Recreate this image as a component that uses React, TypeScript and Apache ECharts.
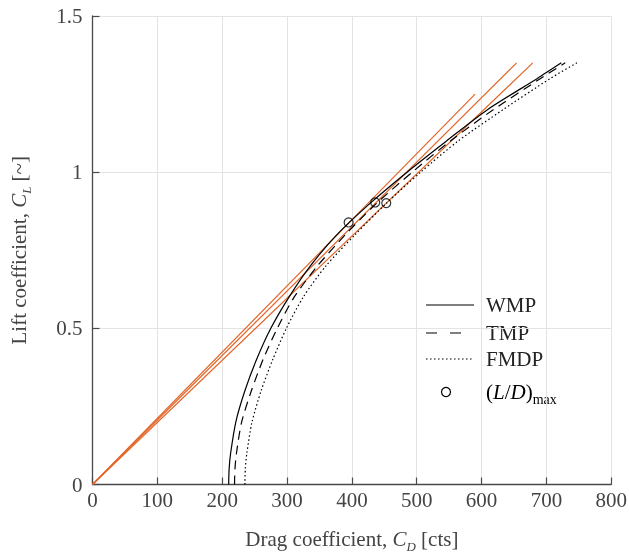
import React, { useEffect, useRef } from "react";
import * as echarts from "echarts";

// Lift coefficient samples (CL) and drag (counts)
const CL = [0, 0.05, 0.1, 0.2, 0.3, 0.4, 0.5, 0.6, 0.7, 0.8, 0.9, 1.0, 1.1, 1.2, 1.3, 1.35];
const CD_WMP = [210, 210.7, 213, 221, 235, 253, 275, 303, 336, 377, 428, 485, 546, 609, 686, 723];
const CD_TMP = [219, 219.7, 222, 230, 245, 263, 285, 311, 347, 390, 438, 493, 552, 618, 691, 729];
const CD_FMDP = [235, 235.7, 238, 246, 260, 278, 299, 325, 360, 405, 453, 506, 564, 633, 706, 747];

// (L/D)max points
const LD_CD = [395, 436, 453];
const LD_CL = [0.839, 0.903, 0.901];

// Tangent lines from origin: end points
const TAN_CD = [590, 654, 679];
const TAN_CL = [1.25, 1.35, 1.35];

const X_MAX = 800;
const Y_MAX = 1.5;

const FONT = '"Liberation Serif", "Times New Roman", serif';
const ORANGE = "#E2662A";

export default function App() {
  const ref = useRef<HTMLDivElement>(null);
  useEffect(() => {
    if (!ref.current) return;
    const chart = echarts.init(ref.current, undefined, { renderer: "svg" });
    const pairs = (xs: number[]) => xs.map((x, i) => [x, CL[i]]);
    const rich = {
      n: { fontFamily: FONT, fontSize: 21, color: "#444", lineHeight: 28 },
      i: { fontFamily: FONT, fontSize: 21, color: "#444", fontStyle: "italic", lineHeight: 28 },
      s: { fontFamily: FONT, fontSize: 13, color: "#444", fontStyle: "italic", lineHeight: 13, verticalAlign: "bottom" },
    };
    const legRich = {
      n: { fontFamily: FONT, fontSize: 21, color: "#222", lineHeight: 28 },
      i: { fontFamily: FONT, fontSize: 21, color: "#222", fontStyle: "italic", lineHeight: 28 },
      s: { fontFamily: FONT, fontSize: 14, color: "#222", lineHeight: 13, verticalAlign: "bottom" },
    };
    const tangentSeries = TAN_CD.map((cd, k) => ({
      type: "line",
      data: [[0, 0], [cd, TAN_CL[k]]],
      symbol: "none",
      lineStyle: { color: ORANGE, width: 1.2 },
      z: 2,
    }));
    const curve = (d: number[], dash: any) => ({
      type: "line",
      data: pairs(d),
      symbol: "none",
      smooth: 0.25,
      lineStyle: { color: "#000", width: 1.2, type: dash },
      z: 3,
    });
    chart.setOption({
      animation: false,
      grid: { left: 90, right: 17, top: 16, bottom: 73.5 },
      xAxis: {
        type: "value",
        min: 0,
        max: X_MAX,
        interval: 100,
        name: "{n|Drag coefficient, }{i|C}{s|D}{n| [cts]}",
        nameLocation: "middle",
        nameGap: 40,
        nameTextStyle: { rich },
        axisLine: { show: true, lineStyle: { color: "#4a4a4a", width: 1.3 } },
        axisTick: { show: true, inside: true, length: 7, lineStyle: { color: "#4a4a4a", width: 1.2 } },
        axisLabel: { fontFamily: FONT, fontSize: 21, color: "#444", margin: 5 },
        splitLine: { show: true, lineStyle: { color: "#e3e3e3", width: 1 } },
      },
      yAxis: {
        type: "value",
        min: 0,
        max: Y_MAX,
        interval: 0.5,
        name: "{n|Lift coefficient, }{i|C}{s|L}{n| [~]}",
        nameLocation: "middle",
        nameGap: 60,
        nameTextStyle: { rich },
        axisLine: { show: true, lineStyle: { color: "#4a4a4a", width: 1.3 } },
        axisTick: { show: true, inside: true, length: 7, lineStyle: { color: "#4a4a4a", width: 1.2 } },
        axisLabel: { fontFamily: FONT, fontSize: 21, color: "#444", margin: 10 },
        splitLine: { show: true, lineStyle: { color: "#e3e3e3", width: 1 } },
      },
      series: [
        ...tangentSeries,
        curve(CD_WMP, "solid"),
        curve(CD_TMP, [9, 6]),
        curve(CD_FMDP, [1.5, 2.5]),
        {
          type: "scatter",
          data: LD_CD.map((x, i) => [x, LD_CL[i]]),
          symbol: "circle",
          symbolSize: 9,
          itemStyle: { color: "rgba(0,0,0,0)", borderColor: "#000", borderWidth: 1.2 },
          z: 4,
        },
      ],
      graphic: [
        { type: "line", shape: { x1: 426, y1: 305, x2: 474, y2: 305 }, style: { stroke: "#000", lineWidth: 1.2 } },
        { type: "line", shape: { x1: 426, y1: 333, x2: 474, y2: 333 }, style: { stroke: "#000", lineWidth: 1.2, lineDash: [11, 13] } },
        { type: "line", shape: { x1: 426, y1: 359, x2: 474, y2: 359 }, style: { stroke: "#000", lineWidth: 1.2, lineDash: [1.5, 2.5] } },
        { type: "circle", shape: { cx: 446, cy: 392, r: 4.5 }, style: { fill: "none", stroke: "#000", lineWidth: 1.2 } },
        { type: "text", x: 486, y: 305, style: { text: "WMP", font: `21px ${FONT}`, fill: "#222", verticalAlign: "middle" } },
        { type: "text", x: 486, y: 333, style: { text: "TMP", font: `21px ${FONT}`, fill: "#222", verticalAlign: "middle" } },
        { type: "text", x: 486, y: 359, style: { text: "FMDP", font: `21px ${FONT}`, fill: "#222", verticalAlign: "middle" } },
        { type: "text", x: 486, y: 392, style: { text: "{n|(}{i|L}{n|/}{i|D}{n|)}{s|max}", rich: legRich, verticalAlign: "middle" } },
      ],
    });
    return () => chart.dispose();
  }, []);
  return <div ref={ref} style={{ position: "fixed", left: 0, top: 0, width: 630, height: 558 }} />;
}
